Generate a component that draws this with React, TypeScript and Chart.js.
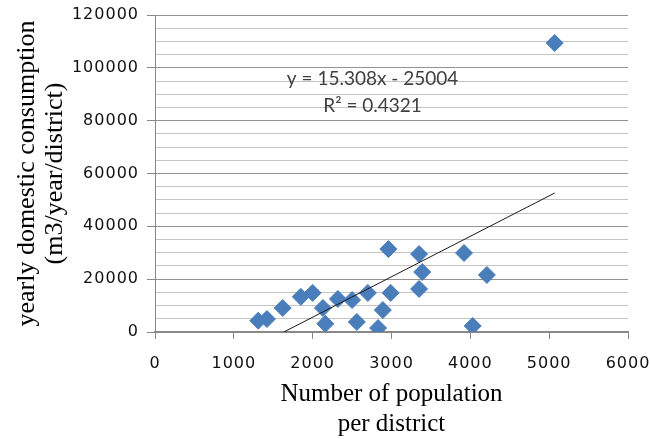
import React, { useEffect, useRef } from 'react';
import { Chart, registerables } from 'chart.js';

Chart.register(...registerables);

// Data
const populationPerDistrict = [1310, 1420, 1620, 1850, 2000, 2130, 2160, 2320, 2500, 2560, 2700, 2830, 2890, 2990, 2960, 3350, 3390, 3350, 3920, 4210, 4030, 5070];
const yearlyConsumption = [4300, 4900, 9100, 13300, 14800, 9100, 3100, 12500, 12100, 3800, 14800, 1500, 8300, 14800, 31400, 29500, 22700, 16300, 29900, 21600, 2300, 109400];

// Linear trend line end points (y = 15.308x - 25004)
const trendX = [1634, 5070];
const trendY = [0, 52610];

const equationLabel = 'y = 15.308x - 25004';
const rSquaredLabel = 'R² = 0.4321';
const labelAnchorX = 2760;
const equationAnchorY = 95900;
const rSquaredAnchorY = 85600;

const xTitle = ['Number of population', 'per district'];
const yTitle = ['yearly domestic consumption', '(m3/year/district)'];

const xMin = 0;
const xMax = 6000;
const xStep = 1000;
const yMin = 0;
const yMax = 120000;
const yMinorStep = 5000;
const yMajorStep = 20000;

const equationPlugin = {
  id: 'equationLabel',
  afterDatasetsDraw(chart: any) {
    const { ctx, scales } = chart;
    const x = scales.x;
    const y = scales.y;
    ctx.save();
    ctx.font = '19px Lato';
    ctx.fillStyle = '#404040';
    ctx.textAlign = 'center';
    ctx.textBaseline = 'middle';
    ctx.fillText(equationLabel, x.getPixelForValue(labelAnchorX), y.getPixelForValue(equationAnchorY));
    ctx.fillText(rSquaredLabel, x.getPixelForValue(labelAnchorX), y.getPixelForValue(rSquaredAnchorY));
    ctx.restore();
  },
};

// Widen tick label lettering a little
const tickSpacingPlugin = {
  id: 'tickSpacing',
  beforeDraw(chart: any) {
    ['x', 'y'].forEach((id) => {
      const s = chart.scales[id];
      if (!s || s.__spaced) return;
      const orig = s.drawLabels.bind(s);
      s.drawLabels = (area: any) => {
        const ctx = s.ctx;
        const prev = ctx.letterSpacing;
        ctx.letterSpacing = '1px';
        orig(area);
        ctx.letterSpacing = prev || '0px';
      };
      s.__spaced = true;
    });
  },
};

export default function App() {
  const canvasRef = useRef<HTMLCanvasElement | null>(null);

  useEffect(() => {
    const canvas = canvasRef.current;
    if (!canvas) return;
    const points = populationPerDistrict.map((x, i) => ({ x, y: yearlyConsumption[i] }));
    const trend = trendX.map((x, i) => ({ x, y: trendY[i] }));
    const isMajor = (v: number) => v % yMajorStep === 0;

    const chart = new Chart(canvas, {
      type: 'scatter',
      data: {
        datasets: [
          {
            type: 'line',
            label: 'Trend',
            data: trend,
            borderColor: '#1a1a1a',
            borderWidth: 1,
            pointRadius: 0,
            fill: false,
          } as any,
          {
            label: 'Districts',
            data: points,
            pointStyle: 'rectRot',
            pointRadius: 8.5,
            pointHoverRadius: 8.5,
            backgroundColor: '#4a7ebb',
            borderColor: '#4a7ebb',
            borderWidth: 1,
          },
        ],
      },
      options: {
        animation: false,
        responsive: false,
        layout: { padding: { left: 0, right: 22, top: 15, bottom: 0 } },
        plugins: {
          legend: { display: false },
          tooltip: { enabled: false },
        },
        scales: {
          x: {
            type: 'linear',
            min: xMin,
            max: xMax,
            afterFit: (s: any) => {
              s.height = 107;
              s.paddingLeft = 0;
              s.paddingRight = 0;
            },
            ticks: {
              stepSize: xStep,
              color: '#111111',
              font: { family: 'DejaVu Sans', size: 16 },
              padding: 15,
              maxRotation: 0,
              callback: (v: any) => String(v),
            },
            grid: {
              drawOnChartArea: false,
              drawTicks: true,
              tickLength: 7,
              tickColor: '#888888',
              tickWidth: 1,
            },
            border: { color: '#888888', width: 2 },
            title: {
              display: true,
              text: xTitle,
              color: '#000000',
              font: { family: 'Liberation Serif', size: 25, lineHeight: 1.2 },
              padding: { top: 0, bottom: 0 },
            },
          },
          y: {
            type: 'linear',
            min: yMin,
            max: yMax,
            afterFit: (s: any) => {
              s.width = 155;
              s.paddingTop = 0;
              s.paddingBottom = 0;
            },
            ticks: {
              stepSize: yMinorStep,
              autoSkip: false,
              color: '#111111',
              font: { family: 'DejaVu Sans', size: 16 },
              padding: 8,
              callback: (v: any) => (isMajor(Number(v)) ? String(v) : ''),
            },
            grid: {
              drawTicks: true,
              tickLength: 8,
              color: (c: any) => (c.tick && isMajor(c.tick.value) ? '#939393' : '#c4c4c4'),
              tickColor: (c: any) => (c.tick && isMajor(c.tick.value) ? '#888888' : 'rgba(0,0,0,0)'),
              lineWidth: 1,
            },
            border: { color: '#888888', width: 1 },
            title: {
              display: true,
              text: yTitle,
              color: '#000000',
              font: { family: 'Liberation Serif', size: 26, lineHeight: 1.08 },
              padding: { top: 13, bottom: 0 },
            },
          },
        },
      },
      plugins: [equationPlugin, tickSpacingPlugin],
    });

    return () => chart.destroy();
  }, []);

  return (
    <div style={{ position: 'absolute', left: 0, top: 0, width: 650, height: 439, background: '#ffffff' }}>
      <canvas ref={canvasRef} width={650} height={439} style={{ display: 'block' }} />
    </div>
  );
}
